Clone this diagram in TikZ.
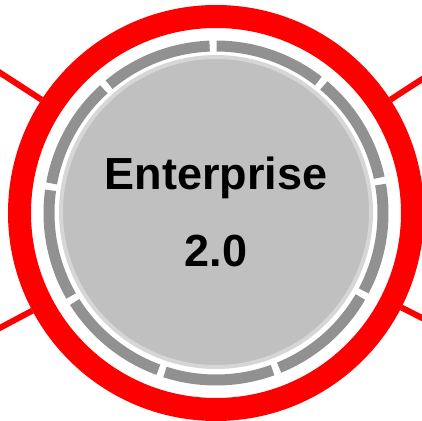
\documentclass[tikz,border=0pt]{standalone}
\usepackage{fontspec}
\setmainfont{Liberation Sans}
\definecolor{ringred}{RGB}{255,0,0}
\definecolor{dashgray}{RGB}{145,145,145}
\definecolor{hubgray}{RGB}{192,192,192}
\definecolor{rimgray}{RGB}{214,214,214}
\begin{document}
\begin{tikzpicture}[x=1pt,y=1pt,
  spoke/.style={ringred, line width=6pt},
  dashseg/.style={dashgray, line width=11pt},
  ringnode/.style={circle, draw=ringred, line width=23pt, minimum size=393pt, inner sep=0pt},
  hub/.style={circle, fill=hubgray, draw=rimgray, line width=4pt, minimum size=310pt,
    inner sep=0pt, align=center, font=\bfseries\fontsize{45pt}{77pt}\selectfont}]
  \useasboundingbox (-216,-207) rectangle (206,213);
  \clip (-216,-207) rectangle (206,213);
  % outer ring
  \node[ringnode] (ring) at (0,0) {};
  % spokes
  \coordinate (t1) at (33:320);
  \coordinate (t2) at (147:320);
  \coordinate (t3) at (208:320);
  \coordinate (t4) at (333:320);
  \draw[spoke] (ring.33) -- (t1);
  \draw[spoke] (ring.147) -- (t2);
  \draw[spoke] (ring.208) -- (t3);
  \draw[spoke] (ring.333) -- (t4);
  % dashed track
  \foreach \a in {11,51,...,331} {
    \draw[dashseg] (\a+1.2:167) arc[start angle=\a+1.2, end angle=\a+38.8, radius=167];
  }
  % hub
  \node[hub] (hub) at (0,1) {Enterprise\\2.0};
\end{tikzpicture}
\end{document}
